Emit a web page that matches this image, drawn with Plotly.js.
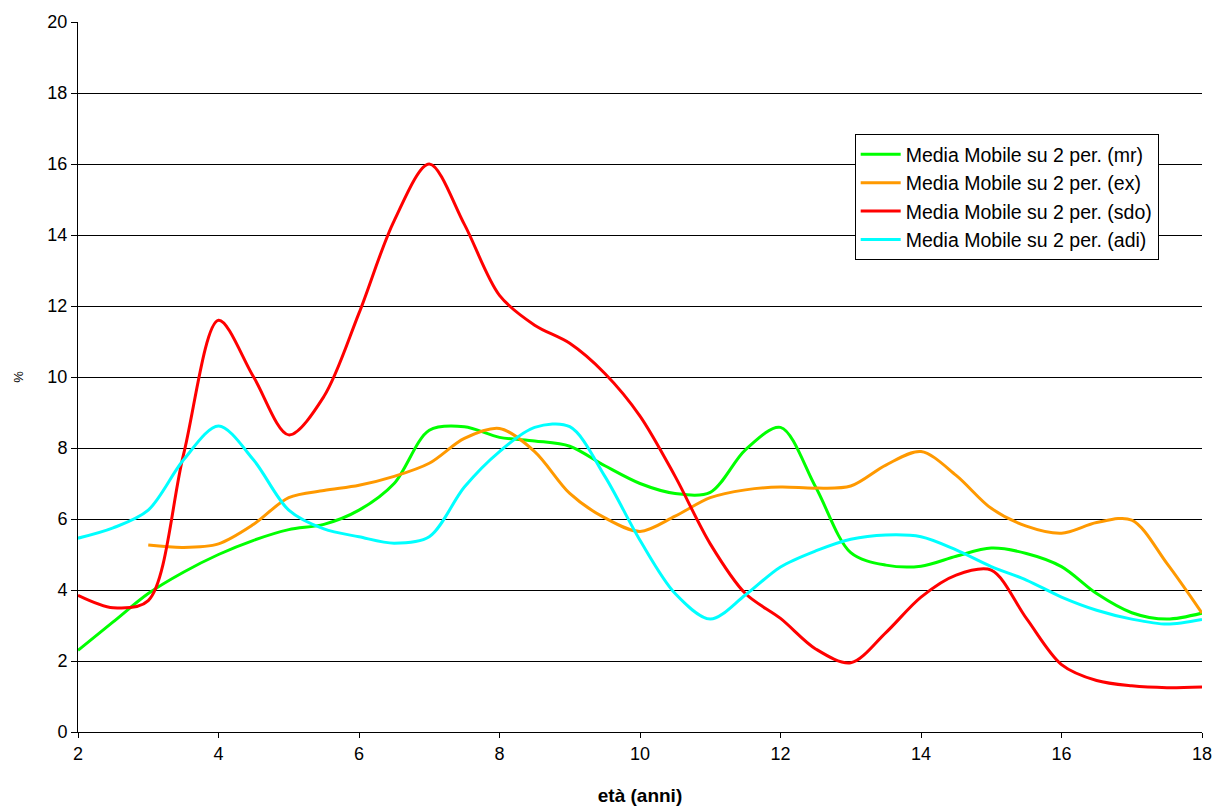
<!DOCTYPE html>
<html>
<head>
<meta charset="utf-8">
<script src="https://cdn.plot.ly/plotly-3.0.1.min.js"></script>
<style>html,body{margin:0;padding:0;background:#fff;}#chart{width:1213px;height:807px;}</style>
</head>
<body>
<div id="chart"></div>
<script>
// Ages (anni)
const ages = [2,2.5,3,3.5,4,4.5,5,5.5,6,6.5,7,7.5,8,8.5,9,9.5,10,10.5,11,11.5,12,12.5,13,13.5,14,14.5,15,15.5,16,16.5,17,17.5,18];
const agesEx = ages.slice(2);

const seriesNames = [
  "Media Mobile su 2 per. (mr)",
  "Media Mobile su 2 per. (ex)",
  "Media Mobile su 2 per. (sdo)",
  "Media Mobile su 2 per. (adi)"
];

const mr  = [2.3,3.1,3.9,4.5,5.0,5.4,5.7,5.85,6.25,7.0,8.5,8.6,8.3,8.2,8.05,7.5,7.0,6.72,6.75,7.95,8.58,6.9,5.05,4.7,4.67,4.95,5.18,5.03,4.66,3.9,3.36,3.18,3.35];
const ex  = [5.27,5.2,5.3,5.85,6.6,6.8,6.95,7.2,7.57,8.27,8.55,7.9,6.72,6.03,5.65,6.08,6.6,6.82,6.9,6.87,6.93,7.52,7.9,7.23,6.3,5.8,5.6,5.9,5.97,4.75,3.35];
const sdo = [3.85,3.5,3.7,7.8,11.6,10.0,8.37,9.45,11.8,14.4,16.0,14.3,12.3,11.46,10.95,10.1,8.9,7.2,5.3,3.9,3.2,2.34,1.95,2.8,3.8,4.42,4.56,3.2,1.9,1.45,1.3,1.25,1.27];
const adi = [5.46,5.75,6.25,7.66,8.62,7.66,6.25,5.72,5.5,5.32,5.5,6.9,7.9,8.58,8.6,7.2,5.4,3.9,3.18,3.86,4.65,5.1,5.43,5.55,5.5,5.13,4.66,4.28,3.8,3.43,3.18,3.04,3.17];

const colors = ["#00FF00","#FF9900","#FF0000","#00FFFF"];
const xs = [ages, agesEx, ages, ages];
const ys = [mr, ex, sdo, adi];

const traces = ys.map((y, i) => ({
  x: xs[i], y: y, type: "scatter", mode: "lines", name: seriesNames[i],
  line: {color: colors[i], width: 3, shape: "spline", smoothing: 0.9}
}));

const layout = {
  width: 1213, height: 807,
  margin: {l: 78, r: 11, t: 22, b: 75},
  paper_bgcolor: "#ffffff", plot_bgcolor: "#ffffff",
  font: {family: "Liberation Sans, Arial, sans-serif", color: "#000", size: 18},
  showlegend: true,
  legend: {
    x: 0.691, y: 0.842, xanchor: "left", yanchor: "top",
    bgcolor: "#ffffff", bordercolor: "#000", borderwidth: 1,
    font: {size: 19.5, family: "Liberation Sans, Arial, sans-serif"},
    tracegroupgap: 0, itemwidth: 40, entrywidth: 0
  },
  xaxis: {
    range: [2, 18], tick0: 2, dtick: 2, showgrid: false, zeroline: false,
    showline: true, linecolor: "#000", linewidth: 1,
    ticks: "outside", ticklen: 5, tickcolor: "#000",
    tickfont: {size: 18},
    title: {text: "<b>età (anni)</b>", font: {size: 19}, standoff: 26}
  },
  yaxis: {
    range: [0, 20], dtick: 2, showgrid: true, gridcolor: "#000", gridwidth: 1,
    zeroline: false, showline: true, linecolor: "#000", linewidth: 1,
    ticks: "outside", ticklen: 6, tickcolor: "#000",
    tickfont: {size: 18},
    title: {text: "%", font: {size: 13}, standoff: 20}
  }
};

Plotly.newPlot("chart", traces, layout, {displayModeBar: false, staticPlot: true});
</script>
</body>
</html>
